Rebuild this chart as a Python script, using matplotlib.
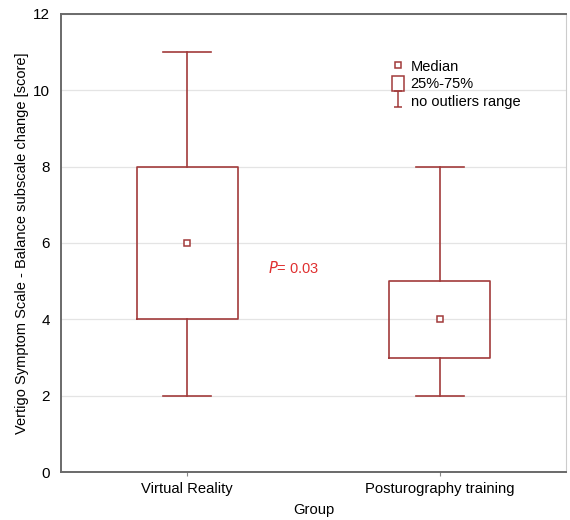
import matplotlib
matplotlib.use("Agg")
import matplotlib.pyplot as plt
from matplotlib.lines import Line2D
from matplotlib.patches import Patch
from matplotlib.path import Path

plt.rcParams['font.family'] = ['Liberation Sans', 'DejaVu Sans']

groups = ['Virtual Reality', 'Posturography training']
medians = [6, 4]
q1 = [4, 3]
q3 = [8, 5]
whis_lo = [2, 2]
whis_hi = [11, 8]
p_text = '0.03'

red = '#a23b3b'

fig = plt.figure(figsize=(5.7, 5.2), dpi=100)
ax = fig.add_axes([0.107, 0.0923, 0.886, 0.8808])

stats = []
for i, g in enumerate(groups):
    stats.append({'label': g, 'med': medians[i], 'q1': q1[i], 'q3': q3[i],
                  'whislo': whis_lo[i], 'whishi': whis_hi[i], 'fliers': []})

pos = list(range(len(groups)))
ax.bxp(stats, positions=pos, widths=0.4, capwidths=0.19, showfliers=False,
       boxprops=dict(color=red, linewidth=1.2),
       whiskerprops=dict(color=red, linewidth=1.2),
       capprops=dict(color=red, linewidth=1.2),
       medianprops=dict(linestyle='none'))
ax.plot(pos, medians, ls='none', marker='s', ms=5, mfc='white', mec=red, mew=1.1, zorder=5)

ax.text(0.32, 5.35, r'$\it{P}$= ' + p_text, color='#e03030', fontsize=10.5, ha='left', va='center')

ax.set_xlim(-0.5, 1.5)
ax.set_ylim(0, 12)
ax.set_yticks(range(0, 13, 2))
ax.set_xticks(pos)
ax.set_xticklabels(groups, fontsize=10.6)
ax.tick_params(axis='y', labelsize=11, length=0, pad=8)
ax.tick_params(axis='x', length=3, width=0.8, color='#888888', pad=4)
ax.yaxis.grid(True, color='#e4e4e4', linewidth=0.9)
ax.set_axisbelow(True)
ax.set_xlabel('Group', fontsize=10.6, labelpad=5)
ax.set_ylabel('Vertigo Symptom Scale - Balance subscale change [score]', fontsize=10.5, labelpad=3)

for s in ['left', 'bottom', 'top']:
    ax.spines[s].set_color('#6a6a6a')
    ax.spines[s].set_linewidth(1.4)
ax.spines['right'].set_color('#cccccc')
ax.spines['right'].set_linewidth(0.8)

ibar = Path([(-0.5, 1), (0.5, 1), (0, 1), (0, -1), (-0.5, -1), (0.5, -1)],
            [Path.MOVETO, Path.LINETO, Path.MOVETO, Path.LINETO, Path.MOVETO, Path.LINETO])
handles = [
    Line2D([], [], ls='none', marker='s', ms=5, mfc='white', mec=red, mew=1.1),
    Patch(facecolor='white', edgecolor=red, linewidth=1.1),
    Line2D([], [], ls='none', marker=ibar, ms=11, mfc='none', mec=red, mew=1.1),
]
leg = ax.legend(handles, ['Median', '25%-75%', 'no outliers range'],
                loc='upper left', bbox_to_anchor=(0.643, 0.915), frameon=False,
                fontsize=10.5, handlelength=0.85, handleheight=1.25, handletextpad=0.45,
                labelspacing=0.1, borderaxespad=0)

fig.savefig('out.png', dpi=100)
